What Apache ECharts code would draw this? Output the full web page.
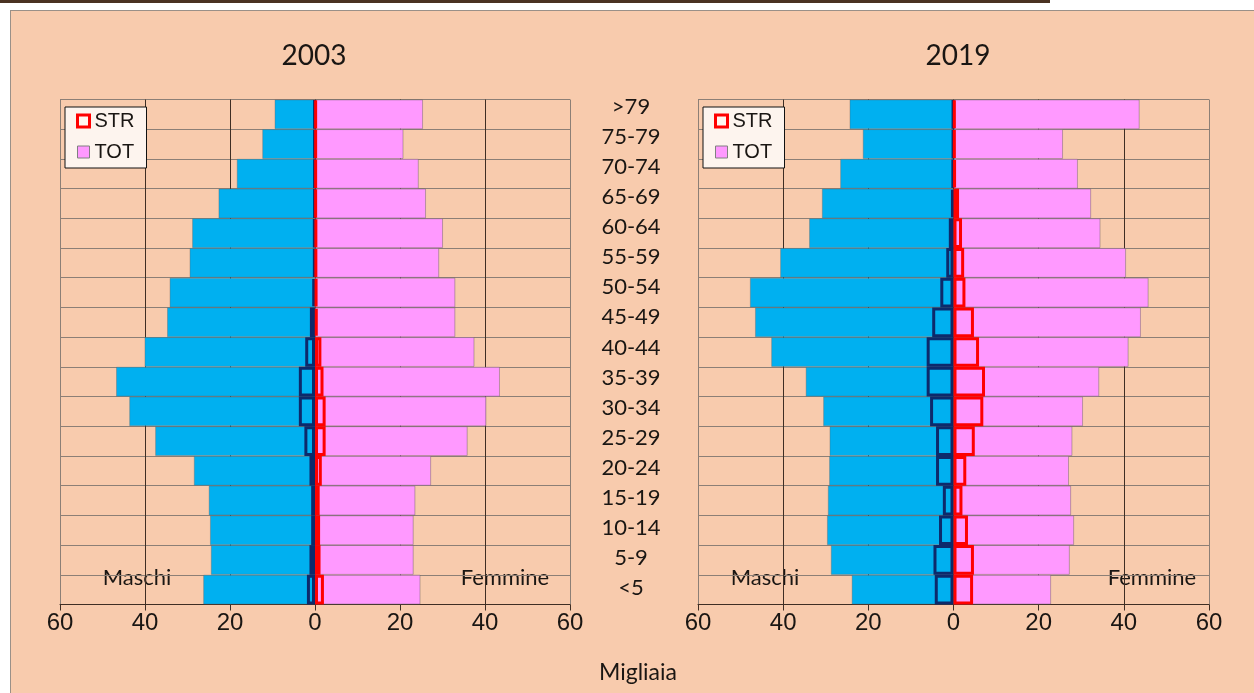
<!DOCTYPE html>
<html>
<head>
<meta charset="utf-8">
<script src="https://cdn.jsdelivr.net/npm/echarts@6/dist/echarts.min.js"></script>
<style>
  html, body { margin: 0; padding: 0; background: #ffffff; }
  #topstrip { position: absolute; left: 0; top: 0; width: 1050px; height: 3px; background: #4a3222; }
  #panel { position: absolute; left: 10px; top: 10px; width: 1244px; height: 683px; background: #F8CBAD;
           border-left: 1px solid #9a9088; border-top: 1px solid #9a9088; box-sizing: border-box; }
  #chart { position: absolute; left: 0; top: 0; width: 1254px; height: 693px; }
</style>
</head>
<body>
<div id="topstrip"></div>
<div id="panel"></div>
<div id="chart"></div>
<script>
// Age classes, youngest first (drawn bottom to top)
const categories = ['<5','5-9','10-14','15-19','20-24','25-29','30-34','35-39','40-44','45-49','50-54','55-59','60-64','65-69','70-74','75-79','>79'];
const xTicks = [-60, -40, -20, 0, 20, 40, 60];

// 2003 (thousands)
const totM2003 = [26.3, 24.5, 24.7, 25.0, 28.5, 37.6, 43.7, 46.8, 40.1, 34.8, 34.2, 29.5, 28.9, 22.7, 18.4, 12.4, 9.5];
const totF2003 = [24.8, 23.2, 23.2, 23.6, 27.3, 35.9, 40.3, 43.5, 37.5, 33.0, 33.0, 29.2, 30.1, 26.1, 24.4, 20.8, 25.4];
const strM2003 = [1.9, 1.3, 0.9, 0.9, 1.3, 2.5, 3.8, 3.8, 2.3, 1.2, 0.6, 0.3, 0.3, 0.2, 0.2, 0.2, 0.2];
const strF2003 = [2.1, 1.3, 1.2, 1.1, 1.6, 2.5, 2.5, 2.0, 1.5, 0.6, 0.5, 0.4, 0.4, 0.3, 0.3, 0.3, 0.3];

// 2019 (thousands)
const totM2019 = [23.9, 28.8, 29.7, 29.5, 29.2, 29.1, 30.6, 34.7, 42.8, 46.6, 47.8, 40.7, 33.9, 30.9, 26.6, 21.3, 24.4];
const totF2019 = [22.9, 27.3, 28.3, 27.6, 27.1, 27.9, 30.4, 34.2, 41.1, 44.0, 45.8, 40.5, 34.5, 32.3, 29.2, 25.7, 43.7];
const strM2019 = [4.4, 4.7, 3.4, 2.5, 4.1, 4.1, 5.5, 6.3, 6.3, 5.0, 3.1, 1.7, 1.1, 0.5, 0.3, 0.2, 0.2];
const strF2019 = [4.6, 4.8, 3.4, 2.1, 3.0, 5.0, 7.0, 7.4, 6.0, 4.8, 2.8, 2.5, 2.0, 1.3, 0.5, 0.4, 0.4];

const years = ['2003', '2019'];
const sets = [
  { totM: totM2003, totF: totF2003, strM: strM2003, strF: strF2003 },
  { totM: totM2019, totF: totF2019, strM: strM2019, strF: strF2019 }
];

const TXT = '#1a1613';
const HLINE = '#8c7f76';
const VLINE = '#3f2e24';
const gridTop = 99.5, gridH = 505;
const grids = [
  { left: 60, top: gridTop, width: 510, height: gridH },
  { left: 698, top: gridTop, width: 511, height: gridH },
  { left: 631, top: 91.6, width: 1, height: 511.7 }
];

const xAxes = [0, 1].map(i => ({
  type: 'value', gridIndex: i, min: -60, max: 60, interval: 20,
  axisLine: { show: true, onZero: false, lineStyle: { color: VLINE, width: 1 } },
  axisTick: { show: true, length: 6, lineStyle: { color: VLINE } },
  axisLabel: { formatter: v => String(Math.abs(v)), color: TXT, fontSize: 24, fontFamily: 'Liberation Sans', margin: 7 },
  splitLine: { show: true, lineStyle: { color: [HLINE, VLINE, VLINE, VLINE, VLINE, VLINE, HLINE], width: 1 } }
}));
xAxes.push({ type: 'value', gridIndex: 2, show: false });

const yAxes = [0, 1].map(i => ({
  type: 'category', gridIndex: i, data: categories,
  axisLine: { show: false }, axisTick: { show: false }, axisLabel: { show: false },
  splitLine: { show: true, lineStyle: { color: HLINE, width: 1 } }
}));
yAxes.push({
  type: 'category', gridIndex: 2, data: categories, position: 'left',
  axisLine: { show: false }, axisTick: { show: false }, splitLine: { show: false },
  axisLabel: { interval: 0, align: 'center', margin: 0, color: TXT, fontSize: 22, fontFamily: 'Lato' }
});

const barCommon = { type: 'bar', barGap: '-100%', barCategoryGap: '0%', emphasis: { disabled: true } };
const series = [];
sets.forEach((s, i) => {
  series.push(Object.assign({}, barCommon, {
    name: 'TOT', xAxisIndex: i, yAxisIndex: i, data: s.totM.map(v => -v),
    itemStyle: { color: '#00B0F0', borderColor: 'rgba(100,95,95,0.45)', borderWidth: 0.8 }, z: 2
  }));
  series.push(Object.assign({}, barCommon, {
    name: 'TOT', xAxisIndex: i, yAxisIndex: i, data: s.totF.slice(),
    itemStyle: { color: '#FF99FF', borderColor: 'rgba(100,95,95,0.55)', borderWidth: 0.8 }, z: 2
  }));
  series.push(Object.assign({}, barCommon, {
    name: 'STR', xAxisIndex: i, yAxisIndex: i, data: s.strM.map(v => -v),
    itemStyle: { color: 'rgba(0,0,0,0)', borderColor: '#0D2A6B', borderWidth: 3 }, z: 3
  }));
  series.push(Object.assign({}, barCommon, {
    name: 'STR', xAxisIndex: i, yAxisIndex: i, data: s.strF.slice(),
    itemStyle: { color: 'rgba(0,0,0,0)', borderColor: '#FF0000', borderWidth: 3 }, z: 4
  }));
});

const legendData = [
  { name: 'STR', icon: 'rect', itemStyle: { color: '#FFF6F0', borderColor: '#FF0000', borderWidth: 3 } },
  { name: 'TOT', icon: 'rect', itemStyle: { color: '#FF99FF', borderColor: '#808080', borderWidth: 1 } }
];
const legends = [65, 703].map(x => ({
  orient: 'vertical', left: x, top: 107, padding: [4, 12, 6, 11], itemGap: 11,
  itemWidth: 12, itemHeight: 12, backgroundColor: '#FDF4EE', borderColor: '#111', borderWidth: 1,
  selectedMode: false,
  textStyle: { fontFamily: 'Liberation Sans', fontSize: 20, color: TXT },
  data: legendData
}));

const textEl = (text, x, y, size) => ({
  type: 'text', x: x, y: y, silent: true,
  style: { text: text, fill: TXT, font: size + 'px Lato', textAlign: 'center', textVerticalAlign: 'middle' }
});

const chart = echarts.init(document.getElementById('chart'), null, { renderer: 'canvas' });
chart.setOption({
  animation: false,
  backgroundColor: 'transparent',
  grid: grids,
  xAxis: xAxes,
  yAxis: yAxes,
  legend: legends,
  series: series,
  graphic: [
    textEl(years[0], 314, 56, 28),
    textEl(years[1], 958, 56, 28),
    textEl('Maschi', 137, 578, 22),
    textEl('Femmine', 505, 578, 22),
    textEl('Maschi', 765, 578, 22),
    textEl('Femmine', 1152, 578, 22),
    textEl('Migliaia', 638, 673, 23)
  ]
});
</script>
</body>
</html>
